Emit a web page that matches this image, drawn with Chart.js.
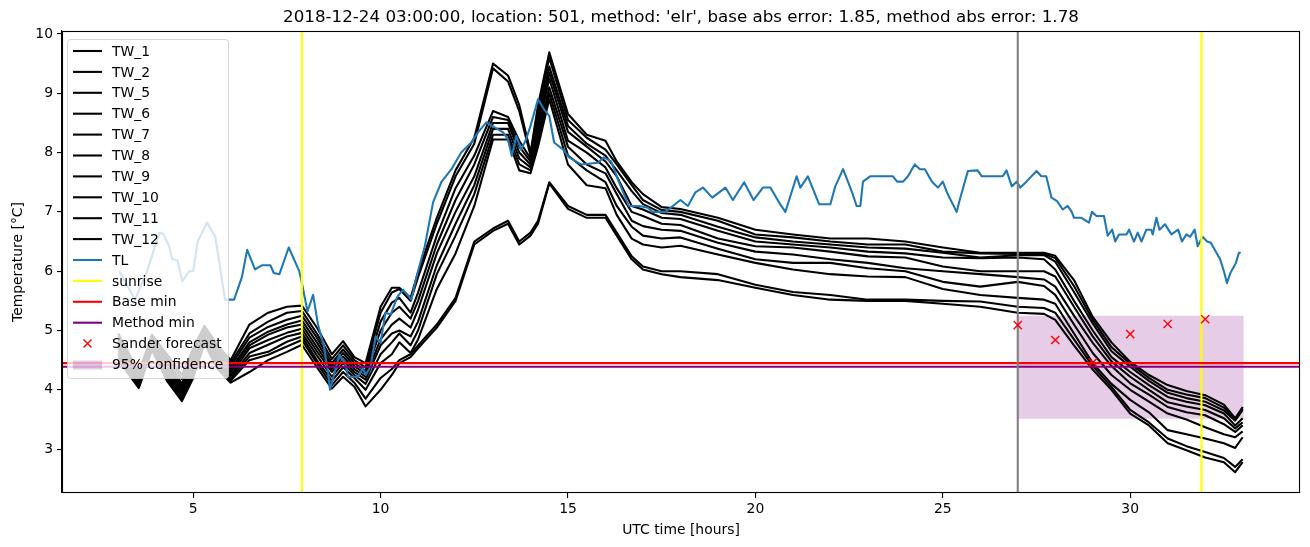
<!DOCTYPE html>
<html>
<head>
<meta charset="utf-8">
<script src="https://cdn.jsdelivr.net/npm/chart.js@4.4.1/dist/chart.umd.min.js"></script>
<style>
    html, body { margin: 0; padding: 0; background: #fff; }
    #wrap { width: 1310px; height: 547px; position: relative; }
</style>
</head>
<body>
<div id="wrap"><canvas id="chartTemp"></canvas></div>
<script>
const titleText = "2018-12-24 03:00:00, location: 501, method: 'elr', base abs error: 1.85, method abs error: 1.78";
const xTicks = [5, 10, 15, 20, 25, 30];
const yTicks = [3, 4, 5, 6, 7, 8, 9, 10];
const xRange = [1.5, 34.53];
const yRange = [2.26, 10.05];

const twLabels = ['TW_1', 'TW_2', 'TW_5', 'TW_6', 'TW_7', 'TW_8', 'TW_9', 'TW_10', 'TW_11', 'TW_12'];
const twHours = [3, 3.55, 3.9, 4.3, 4.7, 5.0, 5.3, 5.65, 6.0, 6.5, 7.0, 7.5, 7.9, 8.3, 8.7, 9.0, 9.3, 9.6, 10.0, 10.3, 10.5, 10.8, 11.0, 11.5, 12.0, 12.5, 13.0, 13.4, 13.7, 14.0, 14.2, 14.5, 15.0, 15.5, 16.0, 16.3, 16.7, 17.0, 17.5, 18, 19, 20, 21, 22, 23, 24, 25, 26, 27, 27.7, 28, 28.5, 29, 29.5, 30, 30.5, 31, 31.5, 32, 32.5, 32.8, 33];
const tw1 = [4.95, 4.3, 4.93, 4.6, 4.25, 4.7, 5.08, 4.75, 4.5, 5.1, 5.3, 5.4, 5.42, 5.05, 4.6, 4.82, 4.55, 4.45, 5.4, 5.72, 5.72, 5.55, 5.98, 6.9, 7.7, 8.25, 9.5, 9.3, 8.8, 8.0, 8.8, 9.69, 8.65, 8.3, 8.2, 7.85, 7.5, 7.3, 7.08, 7.05, 6.9, 6.7, 6.62, 6.55, 6.55, 6.5, 6.4, 6.31, 6.31, 6.31, 6.26, 5.85, 5.23, 4.8, 4.47, 4.25, 4.08, 3.98, 3.91, 3.75, 3.52, 3.71];
const tw2 = [4.9, 4.27, 4.9, 4.55, 4.18, 4.65, 5.05, 4.7, 4.45, 4.95, 5.15, 5.3, 5.33, 4.95, 4.52, 4.75, 4.5, 4.38, 5.3, 5.64, 5.7, 5.5, 5.9, 6.8, 7.6, 8.15, 9.42, 9.2, 8.7, 7.95, 8.7, 9.6, 8.55, 8.25, 8.05, 7.8, 7.45, 7.2, 7.03, 7.0, 6.85, 6.62, 6.57, 6.5, 6.45, 6.45, 6.33, 6.3, 6.29, 6.29, 6.22, 5.75, 5.18, 4.72, 4.44, 4.2, 4.0, 3.92, 3.86, 3.7, 3.5, 3.68];
const tw5 = [4.85, 4.23, 4.87, 4.5, 4.1, 4.58, 5.0, 4.65, 4.4, 4.88, 5.06, 5.18, 5.25, 4.88, 4.45, 4.68, 4.45, 4.32, 5.15, 5.47, 5.55, 5.3, 5.64, 6.6, 7.4, 7.95, 8.7, 8.6, 8.2, 7.9, 8.6, 9.45, 8.45, 8.15, 7.95, 7.7, 7.35, 7.13, 6.98, 6.95, 6.75, 6.57, 6.5, 6.45, 6.4, 6.38, 6.31, 6.23, 6.27, 6.27, 6.16, 5.65, 5.12, 4.65, 4.39, 4.15, 3.95, 3.86, 3.8, 3.65, 3.48, 3.66];
const tw6 = [4.8, 4.2, 4.83, 4.45, 4.05, 4.52, 4.97, 4.6, 4.35, 4.8, 4.98, 5.1, 5.17, 4.8, 4.4, 4.62, 4.4, 4.27, 5.0, 5.3, 5.4, 5.2, 5.5, 6.45, 7.2, 7.8, 8.6, 8.55, 8.1, 7.85, 8.5, 9.35, 8.35, 8.1, 7.85, 7.6, 7.1, 7.04, 6.9, 6.88, 6.68, 6.5, 6.45, 6.4, 6.33, 6.3, 6.23, 6.22, 6.23, 6.2, 6.03, 5.5, 5.0, 4.55, 4.3, 4.08, 3.88, 3.8, 3.74, 3.6, 3.4, 3.52];
const tw7 = [4.75, 4.17, 4.8, 4.4, 4.0, 4.46, 4.93, 4.55, 4.3, 4.75, 4.93, 5.05, 5.1, 4.72, 4.35, 4.56, 4.35, 4.22, 4.85, 5.1, 5.2, 5.05, 5.35, 6.3, 7.0, 7.6, 8.5, 8.5, 8.0, 7.8, 8.4, 9.25, 8.2, 8.0, 7.75, 7.4, 7.0, 6.93, 6.8, 6.78, 6.55, 6.42, 6.4, 6.33, 6.25, 6.23, 6.08, 6.0, 6.0, 6.0, 5.91, 5.4, 4.9, 4.48, 4.22, 4.0, 3.79, 3.72, 3.66, 3.52, 3.35, 3.45];
const tw8 = [4.7, 4.14, 4.77, 4.35, 3.95, 4.4, 4.9, 4.5, 4.25, 4.7, 4.84, 4.96, 5.03, 4.65, 4.3, 4.5, 4.3, 4.17, 4.75, 4.95, 5.0, 4.9, 5.15, 6.1, 6.8, 7.45, 8.4, 8.4, 7.9, 7.75, 8.3, 9.1, 8.1, 7.8, 7.65, 7.3, 6.85, 6.76, 6.7, 6.68, 6.48, 6.33, 6.28, 6.2, 6.14, 6.05, 6.0, 5.95, 5.9, 5.86, 5.74, 5.25, 4.79, 4.4, 4.11, 3.92, 3.71, 3.62, 3.57, 3.42, 3.29, 3.4];
const tw9 = [4.65, 4.1, 4.74, 4.3, 3.9, 4.35, 4.86, 4.47, 4.22, 4.62, 4.76, 4.9, 4.96, 4.58, 4.22, 4.45, 4.25, 4.1, 4.6, 4.8, 4.95, 4.75, 5.0, 5.95, 6.6, 7.3, 8.3, 8.3, 7.8, 7.7, 8.2, 9.0, 7.95, 7.7, 7.5, 7.1, 6.75, 6.6, 6.55, 6.57, 6.38, 6.2, 6.14, 6.14, 6.05, 6.0, 5.82, 5.74, 5.82, 5.75, 5.6, 5.1, 4.62, 4.25, 4.0, 3.8, 3.6, 3.5, 3.37, 3.25, 3.2, 3.3];
const tw10 = [4.6, 4.07, 4.72, 4.25, 3.87, 4.3, 4.83, 4.43, 4.18, 4.56, 4.64, 4.81, 4.9, 4.5, 4.15, 4.38, 4.2, 4.0, 4.45, 4.6, 4.8, 4.62, 4.85, 5.7, 6.3, 7.1, 8.22, 8.22, 7.7, 7.65, 8.1, 8.9, 7.8, 7.45, 7.4, 6.95, 6.55, 6.45, 6.4, 6.43, 6.28, 6.14, 6.03, 5.95, 5.91, 5.9, 5.7, 5.6, 5.55, 5.52, 5.45, 4.95, 4.45, 4.1, 3.83, 3.62, 3.32, 3.25, 3.18, 3.1, 3.02, 3.2];
const tw11 = [4.55, 4.05, 4.7, 4.2, 3.84, 4.25, 4.8, 4.4, 4.15, 4.5, 4.59, 4.73, 4.84, 4.45, 4.08, 4.3, 4.12, 3.85, 4.2, 4.35, 4.5, 4.6, 4.75, 5.1, 5.55, 6.5, 6.72, 6.85, 6.5, 6.65, 6.85, 7.5, 7.1, 6.95, 6.95, 6.65, 6.25, 6.08, 6.0, 6.0, 5.95, 5.77, 5.65, 5.6, 5.52, 5.52, 5.5, 5.49, 5.4, 5.38, 5.3, 4.85, 4.4, 4.05, 3.66, 3.45, 3.18, 3.05, 2.95, 2.85, 2.7, 2.83];
const tw12 = [4.5, 4.03, 4.67, 4.15, 3.81, 4.2, 4.78, 4.35, 4.12, 4.3, 4.5, 4.64, 4.76, 4.38, 4.02, 4.22, 4.05, 3.72, 4.0, 4.25, 4.45, 4.55, 4.7, 5.05, 5.5, 6.45, 6.68, 6.8, 6.45, 6.6, 6.8, 7.48, 7.05, 6.9, 6.9, 6.6, 6.2, 6.03, 5.95, 5.9, 5.85, 5.72, 5.6, 5.52, 5.5, 5.5, 5.45, 5.4, 5.3, 5.28, 5.18, 4.75, 4.34, 4.0, 3.6, 3.4, 3.1, 2.98, 2.86, 2.78, 2.61, 2.78];

const tlHours = [3.03, 3.45, 3.77, 4.1, 4.2, 4.36, 4.44, 4.58, 4.71, 4.9, 5.0, 5.12, 5.37, 5.59, 5.85, 6.09, 6.3, 6.44, 6.65, 6.83, 7.06, 7.15, 7.3, 7.55, 7.83, 7.9, 8.05, 8.2, 8.33, 8.49, 8.6, 8.65, 8.9, 9.05, 9.13, 9.4, 9.53, 9.6, 9.73, 9.87, 10.0, 10.13, 10.27, 10.45, 10.6, 10.82, 10.96, 11.18, 11.4, 11.62, 11.89, 12.15, 12.42, 12.6, 12.82, 13.03, 13.27, 13.4, 13.5, 13.62, 13.75, 13.88, 14.0, 14.2, 14.36, 14.5, 14.63, 14.87, 15.03, 15.35, 15.8, 15.96, 16.15, 16.33, 16.62, 16.9, 17.13, 17.25, 17.6, 18.0, 18.2, 18.4, 18.6, 18.85, 19.2, 19.4, 19.7, 19.95, 20.2, 20.4, 20.66, 20.8, 20.93, 21.1, 21.2, 21.4, 21.7, 22.0, 22.13, 22.34, 22.58, 22.7, 22.8, 22.87, 23.06, 23.67, 23.78, 23.94, 24.07, 24.25, 24.39, 24.52, 24.71, 24.87, 25.0, 25.13, 25.37, 25.45, 25.67, 25.93, 26.04, 26.6, 26.7, 26.84, 26.97, 27.07, 27.23, 27.5, 27.63, 27.76, 27.9, 28.05, 28.2, 28.33, 28.44, 28.5, 28.7, 28.9, 28.98, 29.1, 29.3, 29.4, 29.52, 29.6, 29.7, 29.9, 29.97, 30.1, 30.2, 30.3, 30.43, 30.56, 30.6, 30.7, 30.78, 30.93, 31.1, 31.28, 31.38, 31.5, 31.6, 31.72, 31.8, 31.93, 32.05, 32.15, 32.4, 32.5, 32.58, 32.68, 32.82, 32.9, 32.95];
const tlValues = [6.0, 5.52, 6.0, 6.65, 6.63, 6.42, 6.2, 6.18, 5.83, 6.0, 6.0, 6.5, 6.82, 6.58, 5.52, 5.52, 5.9, 6.36, 6.03, 6.1, 6.1, 5.97, 5.95, 6.4, 6.0, 5.8, 5.32, 5.6, 5.1, 4.73, 4.28, 4.0, 4.59, 4.45, 4.22, 4.22, 4.37, 4.25, 4.39, 4.9, 4.79, 5.3, 5.27, 5.57, 5.69, 5.52, 5.91, 6.42, 7.16, 7.5, 7.72, 8.0, 8.17, 8.34, 8.51, 8.43, 8.34, 8.22, 7.94, 8.28, 8.05, 8.22, 8.45, 8.9, 8.73, 8.62, 8.17, 8.05, 7.92, 7.8, 7.83, 7.92, 7.85, 7.55, 7.1, 7.1, 7.07, 7.0, 7.0, 7.2, 7.1, 7.33, 7.41, 7.24, 7.41, 7.2, 7.5, 7.2, 7.41, 7.41, 7.13, 7.0, 7.26, 7.6, 7.41, 7.6, 7.13, 7.13, 7.43, 7.72, 7.33, 7.1, 7.1, 7.51, 7.6, 7.6, 7.51, 7.51, 7.6, 7.8, 7.72, 7.72, 7.51, 7.41, 7.51, 7.3, 7.0, 7.2, 7.69, 7.7, 7.6, 7.6, 7.7, 7.43, 7.51, 7.41, 7.51, 7.69, 7.6, 7.6, 7.24, 7.18, 7.04, 7.1, 7.0, 6.9, 6.9, 6.82, 7.0, 6.93, 6.93, 6.6, 6.7, 6.5, 6.62, 6.62, 6.7, 6.5, 6.65, 6.5, 6.7, 6.7, 6.62, 6.9, 6.7, 6.79, 6.62, 6.7, 6.5, 6.62, 6.58, 6.7, 6.42, 6.58, 6.5, 6.48, 6.2, 6.0, 5.8, 5.98, 6.14, 6.31, 6.31];

const sunriseHours = [7.9, 31.9];
const baseMin = 4.45;
const methodMin = 4.39;
const forecastStart = 27;
const forecastHours = [27, 28, 29, 30, 31, 32];
const forecastValues = [5.09, 4.84, 4.46, 4.94, 5.11, 5.19];
const confidenceHours = [27, 33.03];
const confidenceLow = 3.51;
const confidenceHigh = 5.25;

const FONT = '"DejaVu Sans", "Liberation Sans", sans-serif';
const LW = 2.08;  // 1.5pt at 100 dpi
const twValues = [tw1, tw2, tw5, tw6, tw7, tw8, tw9, tw10, tw11, tw12];

function pairs(xs, ys) {
    return xs.map((x, i) => ({ x: x, y: ys[i] }));
}

function lineSet(label, data, color, order) {
    return {
        label: label,
        data: data,
        showLine: true,
        borderColor: color,
        backgroundColor: color,
        borderWidth: LW,
        pointRadius: 0,
        tension: 0,
        borderJoinStyle: 'round',
        order: order
    };
}

const datasets = [];
let ord = 100;
twValues.forEach((vals, i) => {
    datasets.push(lineSet(twLabels[i], pairs(twHours, vals), '#000000', ord--));
});
datasets.push(lineSet('TL', pairs(tlHours, tlValues), '#1f77b4', ord--));
sunriseHours.forEach(h => {
    datasets.push(lineSet('sunrise', [{ x: h, y: yRange[0] }, { x: h, y: yRange[1] }], '#ffff00', ord--));
});
datasets.push(lineSet('Base min', [{ x: xRange[0], y: baseMin }, { x: xRange[1], y: baseMin }], '#ff0000', ord--));
datasets.push(lineSet('Method min', [{ x: xRange[0], y: methodMin }, { x: xRange[1], y: methodMin }], '#800080', ord--));
datasets.push(lineSet('forecast start', [{ x: forecastStart, y: yRange[0] }, { x: forecastStart, y: yRange[1] }], '#808080', ord--));
datasets.push({
    label: 'Sander forecast',
    data: pairs(forecastHours, forecastValues),
    showLine: false,
    pointStyle: 'crossRot',
    pointRadius: 5.8,
    pointBorderColor: '#ff0000',
    pointBackgroundColor: '#ff0000',
    pointBorderWidth: 1.4,
    order: ord--
});
datasets.push({
    label: '95% confidence',
    data: confidenceHours.map(h => ({ x: h, y: confidenceHigh })),
    showLine: true,
    borderColor: 'transparent',
    backgroundColor: 'rgba(128, 0, 128, 0.2)',
    pointRadius: 0,
    fill: { value: confidenceLow },
    order: 200
});

const legendItems = [];
twLabels.forEach(l => legendItems.push({ label: l, kind: 'line', color: '#000000' }));
legendItems.push({ label: 'TL', kind: 'line', color: '#1f77b4' });
legendItems.push({ label: 'sunrise', kind: 'line', color: '#ffff00' });
legendItems.push({ label: 'Base min', kind: 'line', color: '#ff0000' });
legendItems.push({ label: 'Method min', kind: 'line', color: '#800080' });
legendItems.push({ label: 'Sander forecast', kind: 'marker', color: '#ff0000' });
legendItems.push({ label: '95% confidence', kind: 'patch', color: 'rgba(128, 0, 128, 0.2)' });

const decorPlugin = {
    id: 'decor',
    afterDraw(chart) {
        const ctx = chart.ctx;
        const a = chart.chartArea;
        ctx.save();

        // legend box
        const bx = 67.5, by = 39.5, bw = 161, bh = 339;
        ctx.beginPath();
        ctx.roundRect(bx, by, bw, bh, 3);
        ctx.fillStyle = 'rgba(255,255,255,0.8)';
        ctx.fill();
        ctx.strokeStyle = 'rgba(204,204,204,0.8)';
        ctx.lineWidth = 1;
        ctx.stroke();

        ctx.font = '13.9px ' + FONT;
        ctx.textBaseline = 'middle';
        ctx.textAlign = 'left';
        legendItems.forEach((item, i) => {
            const y = 51 + i * 20.9;
            if (item.kind === 'line') {
                ctx.strokeStyle = item.color;
                ctx.lineWidth = LW;
                ctx.beginPath();
                ctx.moveTo(73, y);
                ctx.lineTo(102, y);
                ctx.stroke();
            } else if (item.kind === 'marker') {
                ctx.strokeStyle = item.color;
                ctx.lineWidth = 1.4;
                ctx.beginPath();
                ctx.moveTo(83.5, y - 4);
                ctx.lineTo(91.5, y + 4);
                ctx.moveTo(83.5, y + 4);
                ctx.lineTo(91.5, y - 4);
                ctx.stroke();
            } else {
                ctx.fillStyle = item.color;
                ctx.fillRect(73, y - 4, 29, 9);
            }
            ctx.fillStyle = '#000';
            ctx.fillText(item.label, 112, y + 1);
        });

        // frame
        ctx.strokeStyle = '#000';
        ctx.lineWidth = 1.1;
        ctx.strokeRect(Math.round(a.left) + 0.5, Math.round(a.top) + 0.5, Math.round(a.right - a.left) - 1, Math.round(a.bottom - a.top) - 1);

        // title and axis titles
        ctx.fillStyle = '#000';
        ctx.textAlign = 'center';
        ctx.font = '16.7px ' + FONT;
        ctx.fillText(titleText, (a.left + a.right) / 2, 18);
        ctx.font = '13.9px ' + FONT;
        ctx.fillText('UTC time [hours]', (a.left + a.right) / 2, 530);
        ctx.translate(18, (a.top + a.bottom) / 2);
        ctx.rotate(-Math.PI / 2);
        ctx.fillText('Temperature [\u00B0C]', 0, 0);
        ctx.restore();
    }
};

const axisStyle = {
    grid: { display: true, drawOnChartArea: false, drawTicks: true, tickLength: 5, color: '#000', lineWidth: 1.1 },
    border: { display: true, color: '#000', width: 1.1 }
};

new Chart(document.getElementById('chartTemp'), {
    type: 'scatter',
    data: { datasets: datasets },
    options: {
        responsive: true,
        maintainAspectRatio: false,
        animation: false,
        layout: { padding: { top: 31, right: 10, left: 0, bottom: 0 } },
        plugins: {
            legend: { display: false },
            tooltip: { enabled: false },
            title: { display: false }
        },
        scales: {
            x: {
                type: 'linear',
                min: xRange[0],
                max: xRange[1],
                afterBuildTicks: s => { s.ticks = xTicks.map(v => ({ value: v })); },
                afterFit: s => { s.height = 54; },
                ...axisStyle,
                ticks: { color: '#000', font: { family: FONT, size: 13.9 }, padding: 3, maxRotation: 0 }
            },
            y: {
                type: 'linear',
                min: yRange[0],
                max: yRange[1],
                afterBuildTicks: s => { s.ticks = yTicks.map(v => ({ value: v })); },
                afterFit: s => { s.width = 62; },
                ...axisStyle,
                ticks: { color: '#000', font: { family: FONT, size: 13.9 }, padding: 4 }
            }
        }
    },
    plugins: [decorPlugin]
});
</script>
</body>
</html>
